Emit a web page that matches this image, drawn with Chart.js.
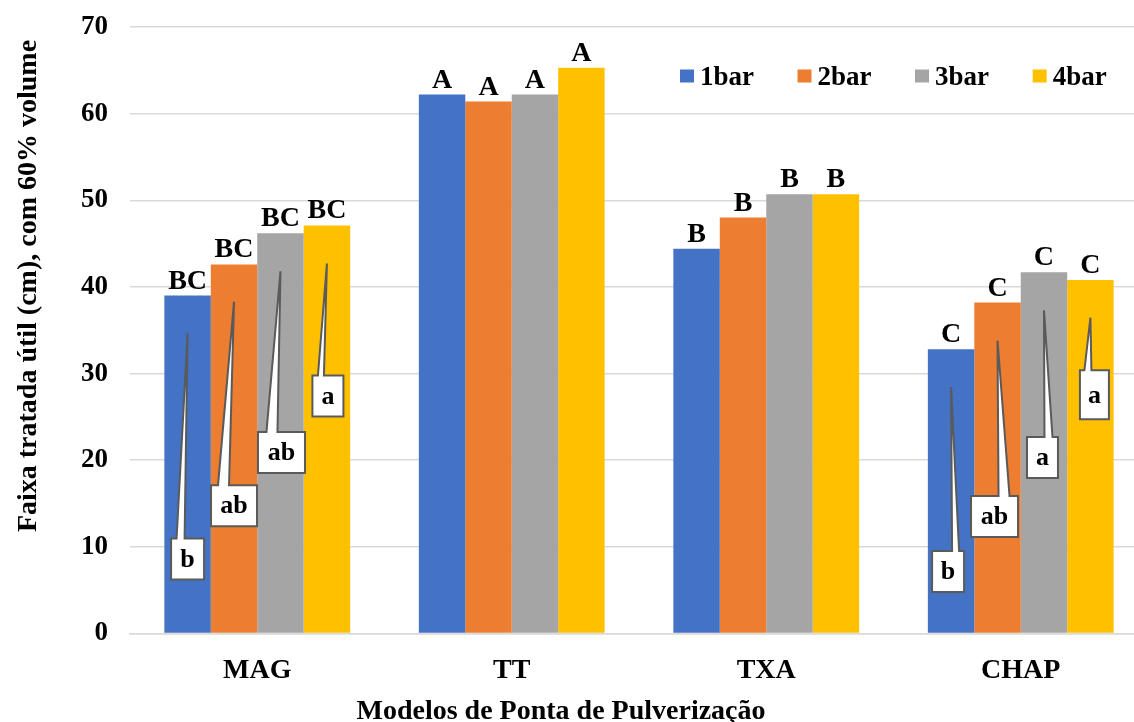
<!DOCTYPE html>
<html>
<head>
<meta charset="utf-8">
<script src="https://cdn.jsdelivr.net/npm/chart.js@4.4.0/dist/chart.umd.min.js"></script>
<style>
  html, body { margin: 0; padding: 0; overflow: hidden; background: #ffffff; }
  #wrap { width: 1150px; height: 722px; position: relative; }
</style>
</head>
<body>
<div id="wrap"><canvas id="c"></canvas></div>
<script>
// Spray tip models and pressures
const categories = ['MAG', 'TT', 'TXA', 'CHAP'];
const seriesNames = ['1bar', '2bar', '3bar', '4bar'];

// Useful treated swath (cm), 60% volume
const bar1 = [39.0, 62.2, 44.4, 32.8];
const bar2 = [42.6, 61.4, 48.0, 38.2];
const bar3 = [46.2, 62.2, 50.7, 41.7];
const bar4 = [47.1, 65.3, 50.7, 40.8];

// Upper-case letters: comparison between tip models (same for every pressure)
const upperLetters = ['BC', 'A', 'B', 'C'];
// Lower-case letters: comparison between pressures within a model
const lowerMAG = ['b', 'ab', 'ab', 'a'];
const lowerCHAP = ['b', 'ab', 'a', 'a'];

const yTickValues = [0, 10, 20, 30, 40, 50, 60, 70];

const colors = ['#4472C4', '#ED7D31', '#A5A5A5', '#FFC000'];
const FONT = '"Liberation Serif", "Times New Roman", serif';

// Callout placement: pointer tip and box centre in axis units, box size and offsets in px
const calloutLayout = [
  { cat: 0, s: 0, letters: lowerMAG,  tip: 34.6,  box: 8.6,   w: 33, h: 41, dx: 0,    bl: -11, br: -3 },
  { cat: 0, s: 1, letters: lowerMAG,  tip: 38.3,  box: 14.75, w: 46, h: 41, dx: 0,    bl: -16, br: -5 },
  { cat: 0, s: 2, letters: lowerMAG,  tip: 41.8,  box: 20.9,  w: 47, h: 41, dx: 1,    bl: -15, br: -4 },
  { cat: 0, s: 3, letters: lowerMAG,  tip: 42.7,  box: 27.4,  w: 31, h: 41, dx: 1,    bl: -10, br: -4 },
  { cat: 3, s: 0, letters: lowerCHAP, tip: 28.45, box: 7.15,  w: 32, h: 41, dx: -3,   bl: 4,   br: 11 },
  { cat: 3, s: 1, letters: lowerCHAP, tip: 33.8,  box: 13.5,  w: 47, h: 41, dx: -3,   bl: 4,   br: 15 },
  { cat: 3, s: 2, letters: lowerCHAP, tip: 37.3,  box: 20.3,  w: 31, h: 41, dx: -1.5, bl: 2,   br: 10 },
  { cat: 3, s: 3, letters: lowerCHAP, tip: 36.45, box: 27.55, w: 29, h: 49, dx: 4,    bl: -10, br: -3 }
];

const seriesValues = [bar1, bar2, bar3, bar4];

const annotations = {
  id: 'annotations',
  afterDatasetsDraw(chart) {
    const ctx = chart.ctx;
    const yScale = chart.scales.y;
    ctx.save();

    // letters above the bars
    ctx.fillStyle = '#000';
    ctx.font = 'bold 28px ' + FONT;
    ctx.textAlign = 'center';
    ctx.textBaseline = 'alphabetic';
    chart.data.datasets.forEach((ds, di) => {
      const meta = chart.getDatasetMeta(di);
      meta.data.forEach((bar, i) => {
        ctx.fillText(upperLetters[i], bar.x, bar.y - 7);
      });
    });

    // callouts with lower-case letters
    calloutLayout.forEach(c => {
      const bar = chart.getDatasetMeta(c.s).data[c.cat];
      const tipX = bar.x;
      const tipY = yScale.getPixelForValue(c.tip);
      const cx = bar.x + c.dx;
      const cy = yScale.getPixelForValue(c.box);
      const l = cx - c.w / 2, r = cx + c.w / 2, t = cy - c.h / 2, b = cy + c.h / 2;
      ctx.beginPath();
      ctx.moveTo(l, t);
      ctx.lineTo(cx + c.bl, t);
      ctx.lineTo(tipX, tipY);
      ctx.lineTo(cx + c.br, t);
      ctx.lineTo(r, t);
      ctx.lineTo(r, b);
      ctx.lineTo(l, b);
      ctx.closePath();
      ctx.fillStyle = '#ffffff';
      ctx.fill();
      ctx.lineWidth = 2;
      ctx.lineJoin = 'miter';
      ctx.strokeStyle = '#5a5a5a';
      ctx.stroke();
      ctx.fillStyle = '#000';
      ctx.font = 'bold 26px ' + FONT;
      ctx.textAlign = 'center';
      ctx.textBaseline = 'middle';
      ctx.fillText(c.letters[c.s], cx, cy + 1);
    });

    // legend
    ctx.font = 'bold 27px ' + FONT;
    ctx.textAlign = 'left';
    ctx.textBaseline = 'alphabetic';
    const legendX = [680, 797.5, 915, 1032.7];
    seriesNames.forEach((name, i) => {
      ctx.fillStyle = colors[i];
      ctx.fillRect(legendX[i], 69.5, 14, 13);
      ctx.fillStyle = '#000';
      ctx.fillText(name, legendX[i] + 20, 85);
    });

    // axis titles
    ctx.font = 'bold 28px ' + FONT;
    ctx.textAlign = 'center';
    ctx.textBaseline = 'alphabetic';
    ctx.fillText('Modelos de Ponta de Pulverização', 561, 719);

    ctx.translate(36, 286);
    ctx.rotate(-Math.PI / 2);
    ctx.fillText('Faixa tratada útil (cm), com 60% volume', 0, 0);
    ctx.restore();
  }
};

new Chart(document.getElementById('c'), {
  type: 'bar',
  data: {
    labels: categories,
    datasets: seriesNames.map((name, i) => ({
      label: name,
      data: seriesValues[i],
      backgroundColor: colors[i],
      borderWidth: 0,
      categoryPercentage: 0.73,
      barPercentage: 1.0
    }))
  },
  options: {
    responsive: true,
    maintainAspectRatio: false,
    animation: false,
    layout: { padding: { top: 27, right: 2, left: 0, bottom: 0 } },
    plugins: {
      legend: { display: false },
      tooltip: { enabled: false }
    },
    scales: {
      x: {
        grid: { display: false, drawTicks: false },
        border: { display: true, color: '#d9d9d9', width: 1.5 },
        ticks: {
          color: '#000',
          font: { family: FONT, size: 28, weight: 'bold' },
          padding: 20
        },
        afterFit(scale) { scale.height = 88.5; scale.paddingLeft = 0; scale.paddingRight = 0; }
      },
      y: {
        min: 0,
        max: 70,
        afterBuildTicks(scale) { scale.ticks = yTickValues.map(v => ({ value: v })); },
        grid: { color: '#d9d9d9', lineWidth: 1.5, drawTicks: false },
        border: { display: false },
        ticks: {
          color: '#000',
          font: { family: FONT, size: 27, weight: 'bold' },
          padding: 22
        },
        afterFit(scale) { scale.width = 130; scale.paddingTop = 0; scale.paddingBottom = 0; }
      }
    }
  },
  plugins: [annotations]
});
</script>
</body>
</html>
